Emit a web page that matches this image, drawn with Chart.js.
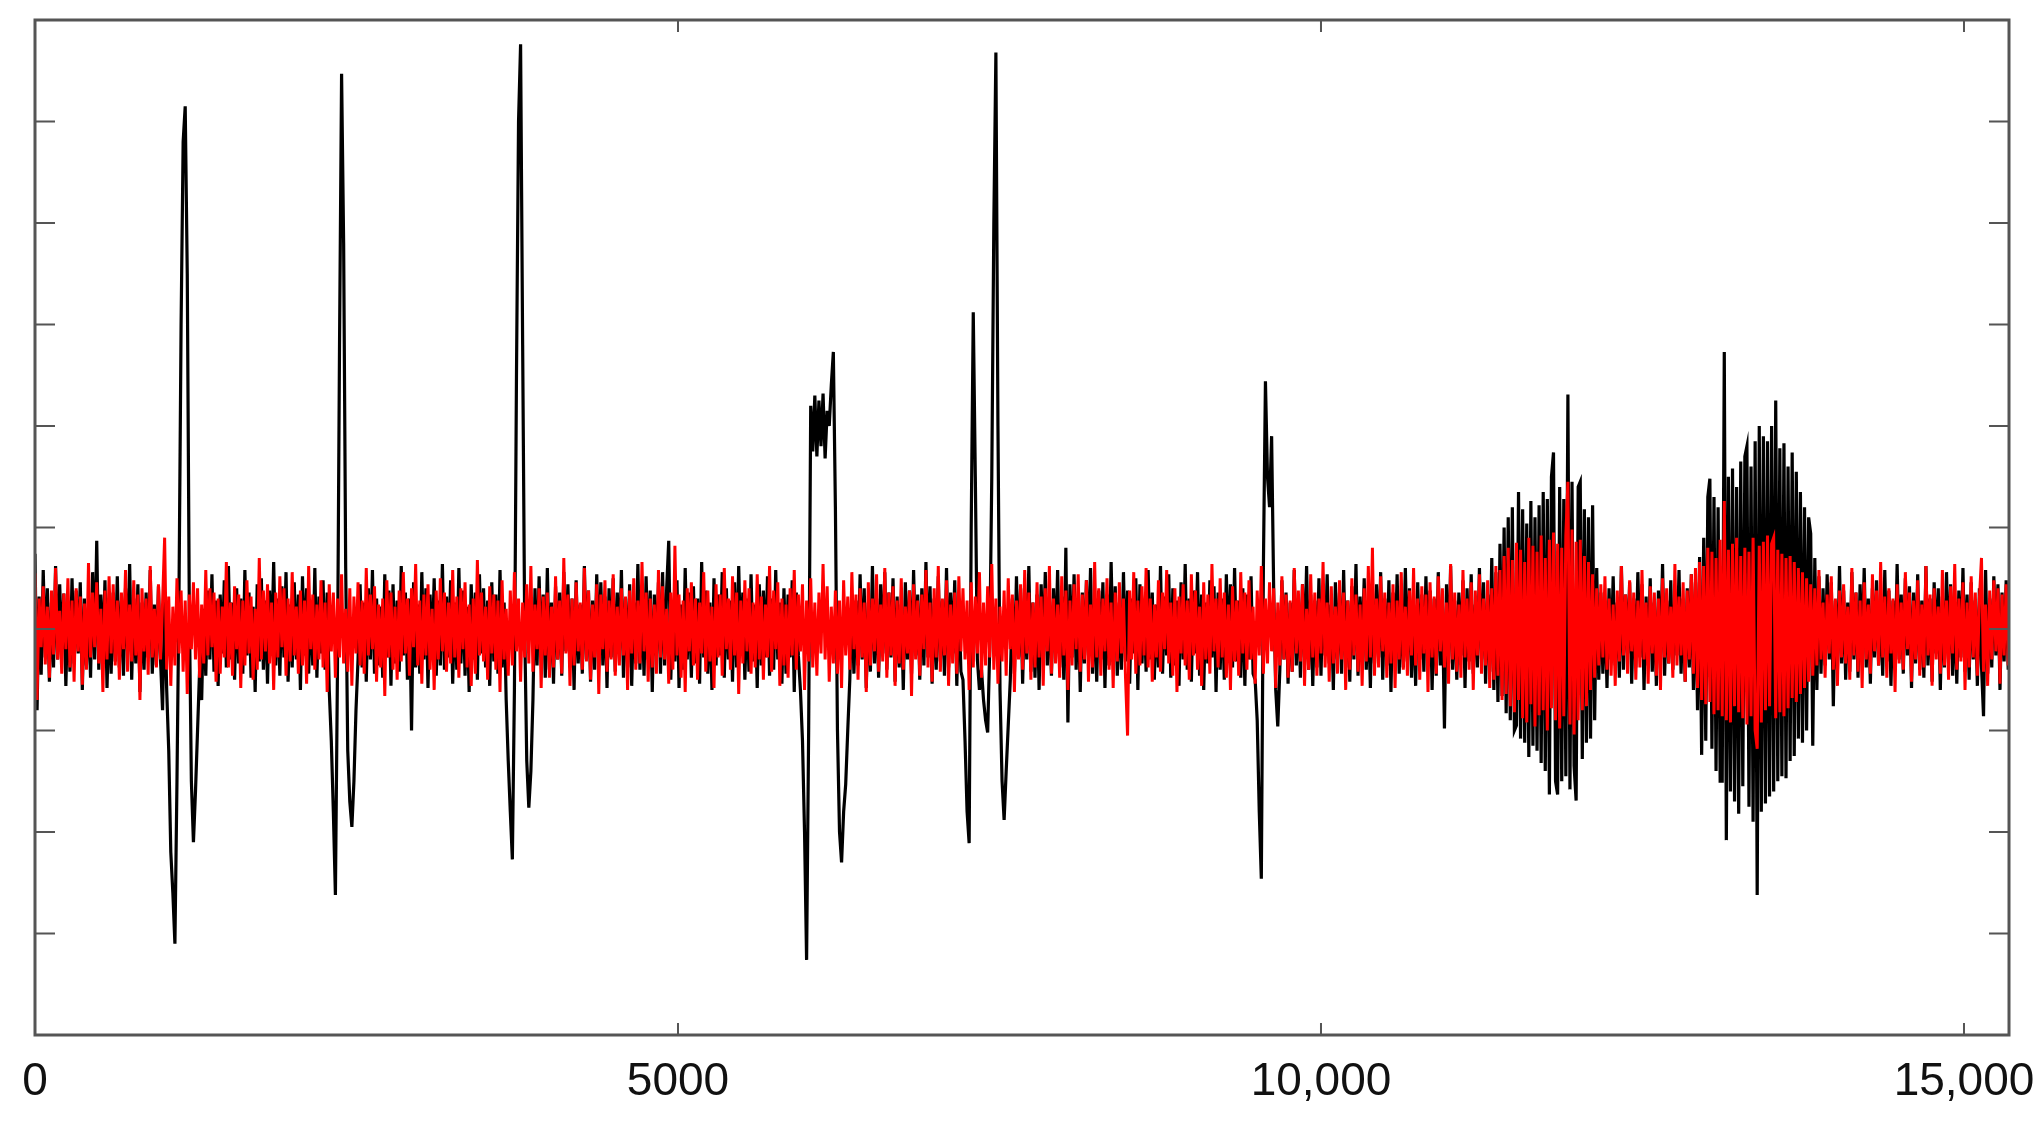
<!DOCTYPE html>
<html lang="en">
<head>
    <meta charset="UTF-8">
    <title>Trace vs noise</title>
    <script src="https://cdn.jsdelivr.net/npm/chart.js"></script>
    <style>
      html, body { margin: 0; padding: 0; background: #fff; }
      #wrap { width: 2044px; height: 1122px; }
    </style>
</head>
<body>
    <div id="wrap"><canvas id="traceChart"></canvas></div>
    <script>
      // both traces are sampled every 16 x-units, starting at 0
      const sampleStep = 16;
      const xMax = 15350;
      const xTickValues = [0, 5000, 10000, 15000];
      const xTickLabels = ['0', '5000', '10,000', '15,000'];
      const yMin = -400;
      const yMax = 600;
      const yTickValues = [-300, -200, -100, 0, 100, 200, 300, 400, 500];

      // black trace (recording with spikes and two bursts)
      const rawTrace = [
        74,-80,32,-45,58,-28,40,-52,26,-38,62,-30,44,-20,35,-56,28,-42,50,-34,
        38,-24,46,-60,30,-36,22,-48,56,-30,87,-40,34,-26,48,-58,20,-44,36,-32,
        52,-38,28,-46,40,-22,64,-50,30,-34,44,-62,26,-40,36,-28,58,-44,24,-36,
        42,-30,-80,30,-60,-120,-220,-260,-310,-150,40,300,480,515,350,20,-150,-210,-160,-100,
        -40,-70,20,-46,38,-30,54,-42,28,-56,34,-24,48,-38,62,-30,26,-50,40,-34,
        30,-44,58,-26,36,-48,22,-62,44,-32,50,-40,28,-54,38,-22,66,-36,30,-46,
        42,-28,56,-52,24,-38,46,-30,34,-60,52,-26,40,-44,28,-36,60,-48,32,-24,
        48,-40,36,-60,-110,-180,-262,-40,280,547,380,60,-120,-170,-195,-150,-80,-30,44,-38,
        26,-52,40,-30,58,-44,30,-36,22,-48,54,-28,38,-56,44,-34,28,-42,62,-26,
        36,-50,30,-100,46,-38,24,-44,56,-30,40,-58,34,-26,50,-46,28,-36,64,-40,
        32,-28,48,-54,26,-40,60,-34,38,-46,22,-62,44,-30,36,-50,54,-24,40,-38,
        28,-56,46,-32,34,-44,58,-38,26,-70,-130,-180,-227,-60,250,500,576,280,0,-130,
        -176,-140,-70,40,-36,52,-28,34,-48,60,-40,26,-54,42,-30,36,-46,56,-22,44,
        -38,30,-60,48,-34,24,-44,62,-30,38,-52,28,-40,54,-26,46,-36,32,-58,40,
        -28,50,-42,36,-24,58,-48,30,-38,44,-56,26,-34,64,-40,28,-46,52,-30,38,
        -62,34,-26,46,-44,56,-36,40,87,-50,28,-32,48,-58,24,-40,60,-30,36,-48,
        42,-34,30,-54,66,-28,38,-44,26,-60,50,-36,34,-26,56,-48,40,-30,28,-52,
        46,-38,62,-24,36,-50,30,-42,54,-32,24,-58,44,-36,38,-28,52,-46,30,-40,
        58,-30,26,-54,40,-44,34,-28,48,-62,36,-26,-60,-110,-200,-326,-100,220,175,230,
        170,225,180,232,168,215,200,240,273,120,-100,-200,-230,-180,-153,-100,-50,34,-44,28,
        -36,54,-30,40,-58,26,-42,62,-34,30,-48,44,-24,56,-40,36,-28,50,-52,32,
        -38,24,-60,46,-30,38,-44,58,-26,34,-50,40,-36,66,-28,42,-54,30,-40,52,
        -32,28,-46,60,-38,36,-24,48,-56,30,-42,-50,-110,-180,-211,100,312,150,-30,-60,
        -40,-70,-90,-102,-20,150,400,568,200,-60,-150,-188,-140,-95,-50,30,-44,52,-28,40,
        -54,36,-30,62,-42,26,-48,34,-60,44,-26,56,-36,30,-46,40,-24,58,-38,32,
        -50,80,-92,44,-28,54,-40,30,-62,36,-34,48,-26,60,-44,28,-52,38,-30,46,
        -58,34,-36,66,-28,42,-46,26,-40,56,-32,38,-54,30,-24,50,-60,44,-34,28,
        -42,58,-30,36,-50,24,-38,62,-44,32,-26,54,-48,40,-36,28,-56,46,-30,64,
        -40,30,-52,38,-24,56,-46,34,-60,26,-34,48,-28,42,-62,36,-40,30,-50,54,
        -26,44,-38,60,-32,28,-48,40,-56,34,-30,52,-44,-50,-90,-180,-246,60,244,150,
        120,190,40,-60,-96,-40,48,-30,36,-54,26,-42,58,-36,30,-48,44,-28,62,-40,
        34,-56,28,-38,50,-46,40,-26,54,-34,24,-60,46,-30,36,-44,58,-38,28,-52,
        42,-30,64,-46,32,-24,50,-40,26,-58,38,-34,44,-28,56,-50,30,-36,48,-62,
        36,-26,54,-44,28,-38,60,-32,40,-48,24,-56,46,-30,34,-42,52,-28,38,-60,
        30,-46,56,-36,26,-98,44,-34,62,-40,28,-50,36,-26,48,-58,40,-32,54,-44,
        24,-38,60,-30,46,-54,34,-42,70,-60,56,-72,84,-66,100,-83,110,-90,120,-100,
        -95,135,-108,118,-112,104,-126,126,-115,110,-120,122,-132,135,-140,128,-163,150,174,-150,
        -163,140,-150,128,-145,231,-158,145,-135,-169,140,145,-128,118,-112,110,-108,122,-90,60,
        -50,36,-44,28,-58,40,-30,52,-36,26,-48,62,-40,34,-24,46,-54,30,-38,56,
        -28,44,-60,32,-36,50,-42,26,-56,38,-30,64,-46,28,-34,48,-40,36,-26,58,
        -44,30,-52,40,-38,54,-60,46,-80,71,-124,90,-110,130,148,-118,130,-140,120,-150,
        -150,273,-208,150,-160,158,-170,140,-182,165,-155,170,180,-175,160,-190,185,-262,200,-180,
        190,-172,185,-165,200,-160,225,-150,178,-145,183,-147,160,-130,174,-125,155,-108,135,-112,
        120,-100,110,94,-115,70,-60,52,-44,40,-36,54,-30,46,-76,28,-40,62,-34,38,
        -50,26,-42,56,-30,36,-48,44,-24,60,-38,30,-54,40,-28,48,-36,26,-46,58,
        -32,38,-56,28,-40,64,-30,34,-44,50,-26,42,-58,36,-34,54,-40,28,-48,62,
        -36,30,-52,46,-24,40,-60,32,-38,56,-30,44,-46,26,-54,38,-28,60,-42,34,
        -50,46,-30,28,-56,40,-36,-86,58,-44,30,-38,52,-26,44,-60,36,-32,48,-40,
        54
      ];

      // red trace (noise)
      const noiseTrace = [
        55,-70,30,-18,42,-35,22,-48,38,-25,60,-30,18,-44,35,-20,50,-38,28,-52,
        40,-22,32,-55,25,-40,65,-28,36,-18,46,-34,20,-62,38,-30,52,-24,44,-36,
        28,-50,36,-20,58,-42,24,-32,48,-26,34,-70,40,-22,30,-45,62,-28,20,-38,
        44,-30,26,90,-40,32,-56,22,-36,50,-24,38,-42,28,-64,34,-20,46,-30,40,
        -48,24,-34,58,-26,40,-18,36,-52,30,-44,22,-28,66,-38,26,-46,42,-20,34,
        -58,28,-36,48,-24,32,-50,20,-40,70,-30,38,-22,44,-34,26,-60,36,-28,52,
        -18,40,-46,30,-32,56,-26,22,-44,38,-36,28,-54,62,-20,34,-40,24,-30,48,
        -38,26,-62,44,-22,36,-48,30,-28,54,-34,20,-42,40,-56,32,-24,46,-36,28,
        -44,60,-26,34,-20,42,-52,24,-38,30,-66,48,-28,36,-40,22,-50,38,-32,56,
        -24,30,-46,40,-18,64,-36,28,-54,34,-26,44,-40,20,-60,38,-30,50,-22,36,
        -42,26,-34,58,-28,32,-48,40,-20,46,-38,24,-56,30,-44,68,-26,36,-32,22,
        -50,42,-24,34,-40,28,-62,48,-30,20,-46,38,-36,56,-22,30,-52,26,-28,44,
        -34,62,-42,24,-20,40,-58,32,-26,36,-48,22,-38,52,-30,28,-44,70,-24,34,
        -56,30,-36,46,-22,26,-40,60,-32,38,-50,24,-28,44,-64,34,-20,48,-42,28,
        -30,54,-46,22,-36,40,-26,32,-60,38,-24,50,-40,28,-34,66,-22,36,-52,30,
        -38,24,-44,58,-28,42,-30,20,-54,36,-40,82,-26,34,-48,28,-62,40,-22,46,
        -36,30,-50,26,-24,56,-42,38,-32,22,-58,44,-28,34,-46,60,-20,30,-40,52,
        -26,36,-64,28,-34,48,-22,40,-44,26,-38,54,-30,32,-50,24,-28,62,-42,38,
        -20,46,-56,30,-36,24,-48,40,-26,58,-40,34,-22,44,-60,28,-32,50,-38,26,
        -46,36,-24,64,-30,42,-52,22,-34,38,-44,28,-58,48,-26,32,-40,56,-20,34,
        -50,40,-28,26,-62,46,-36,30,-22,54,-42,24,-32,60,-48,36,-26,42,-56,28,
        -34,50,-40,22,-24,38,-66,44,-30,28,-46,34,-20,58,-38,26,-52,40,-28,62,
        -42,30,-26,48,-56,24,-34,36,-44,52,-22,40,-30,28,-60,46,-38,32,-24,56,
        -48,26,-36,42,-28,64,-40,30,-54,22,-32,38,-46,50,-20,34,-62,28,-30,44,
        -40,58,-24,36,-50,26,-38,46,-28,32,-56,40,-22,62,-44,30,-34,24,-48,52,
        -26,38,-60,28,-36,44,-20,54,-42,34,-30,48,-52,24,-38,66,-28,40,-46,30,
        -22,50,-40,26,-58,36,-32,46,-24,30,-48,-105,38,-30,56,-44,28,-36,42,-26,
        60,-38,30,-52,24,-28,48,-42,36,-20,58,-34,26,-46,40,-62,32,-24,44,-36,
        28,-50,54,-26,38,-40,22,-56,46,-30,34,-44,64,-22,30,-38,50,-28,36,-48,
        24,-60,42,-32,28,-46,56,-24,36,-40,48,-30,22,-54,38,-26,62,-44,30,-34,
        46,-22,40,-58,26,-36,52,-30,34,-48,28,-42,60,-24,38,-32,44,-56,20,-40,
        54,-28,36,-46,30,-24,66,-38,26,-52,42,-34,22,-44,48,-30,36,-60,28,-40,
        50,-26,34,-42,24,-56,40,-32,62,-28,80,-46,30,-38,52,-22,36,-48,26,-34,
        44,-58,28,-30,56,-40,22,-46,38,-26,60,-36,30,-50,42,-24,34,-62,46,-28,
        32,-44,52,-22,40,-38,26,-54,64,-30,36,-42,24,-48,58,-28,30,-40,46,-60,
        38,-26,54,-44,30,-36,48,-58,40,-50,62,-46,58,-70,72,-64,80,-76,68,-82,
        85,-70,78,-88,66,-92,90,-74,82,-96,76,-85,92,-80,70,-100,88,-78,95,-90,
        84,-98,80,-86,92,145,-94,98,-104,86,-90,88,-80,72,-76,66,-60,54,-48,40,
        -36,44,-28,52,-40,30,-46,24,-56,38,-32,62,-26,34,-44,48,-22,36,-50,28,
        -38,58,-30,26,-54,42,-24,36,-46,30,-60,50,-28,40,-34,22,-48,64,-36,32,
        -26,46,-52,38,-30,54,-44,60,-58,66,-70,62,-74,80,-72,76,-84,70,-80,88,
        -86,126,-90,78,-92,84,-76,90,-82,72,-88,80,-94,76,-86,90,-100,-118,82,-92,
        86,-80,92,-76,84,90,-88,78,-82,74,-86,70,-78,72,-68,66,-72,60,-64,56,
        -58,50,-52,44,-46,40,-36,58,-30,26,-48,34,-24,52,-40,30,-56,38,-28,44,
        -34,22,-50,60,-26,36,-42,28,-58,46,-30,24,-44,54,-22,38,-36,66,-28,32,
        -48,40,-24,30,-62,44,-34,26,-40,56,-20,36,-52,28,-30,48,-46,24,-38,62,
        -26,34,-56,40,-30,22,-44,58,-36,28,-50,42,-24,64,-40,30,-32,46,-60,26,
        -38,52,-28,36,-46,30,70,-42,24,-56,38,-30,48,-22,40,-54,34,-26,44,-36,
        30
      ];

      const toPoints = arr => arr.map((v, i) => ({ x: i * sampleStep, y: v }));

      // frame box plus inward tick marks on all four sides
      const frameTicks = {
        id: 'frameTicks',
        afterDatasetsDraw(chart) {
          const { ctx, chartArea: a, scales: { x, y } } = chart;
          ctx.save();
          ctx.strokeStyle = '#555';
          ctx.lineWidth = 2;
          ctx.beginPath();
          yTickValues.forEach(v => {
            const py = y.getPixelForValue(v);
            ctx.moveTo(a.left, py); ctx.lineTo(a.left + 20, py);
            ctx.moveTo(a.right, py); ctx.lineTo(a.right - 20, py);
          });
          xTickValues.forEach(v => {
            const px = x.getPixelForValue(v);
            ctx.moveTo(px, a.bottom); ctx.lineTo(px, a.bottom - 12);
            ctx.moveTo(px, a.top); ctx.lineTo(px, a.top + 12);
          });
          ctx.stroke();
          ctx.lineWidth = 3;
          ctx.strokeRect(a.left, a.top, a.right - a.left, a.bottom - a.top);
          ctx.restore();
        }
      };

      new Chart(document.getElementById('traceChart'), {
        type: 'line',
        data: {
          datasets: [
            {
              label: 'noise',
              data: toPoints(noiseTrace),
              borderColor: '#ff0000',
              borderWidth: 3,
              pointRadius: 0,
              tension: 0,
              order: 1
            },
            {
              label: 'trace',
              data: toPoints(rawTrace),
              borderColor: '#000000',
              borderWidth: 3.2,
              pointRadius: 0,
              tension: 0,
              order: 2
            }
          ]
        },
        options: {
          responsive: true,
          maintainAspectRatio: false,
          animation: false,
          layout: { padding: { left: 35, right: 35, top: 20, bottom: 0 } },
          plugins: { legend: { display: false }, tooltip: { enabled: false } },
          scales: {
            x: {
              type: 'linear',
              min: 0,
              max: xMax,
              grid: { display: false },
              border: { display: false },
              afterBuildTicks: scale => {
                scale.ticks = xTickValues.map(v => ({ value: v }));
              },
              // labels may hang over the frame edges; keep the plot box fixed
              afterFit: scale => {
                scale.paddingLeft = 0;
                scale.paddingRight = 0;
              },
              ticks: {
                padding: 16.5,
                color: '#111',
                font: { family: "'Liberation Sans Narrow', 'Liberation Sans', Arial, sans-serif", size: 46, lineHeight: 1.0 },
                maxRotation: 0,
                callback: (value) => xTickLabels[xTickValues.indexOf(value)]
              }
            },
            y: {
              display: false,
              min: yMin,
              max: yMax
            }
          }
        },
        plugins: [frameTicks]
      });
    </script>
</body>
</html>
